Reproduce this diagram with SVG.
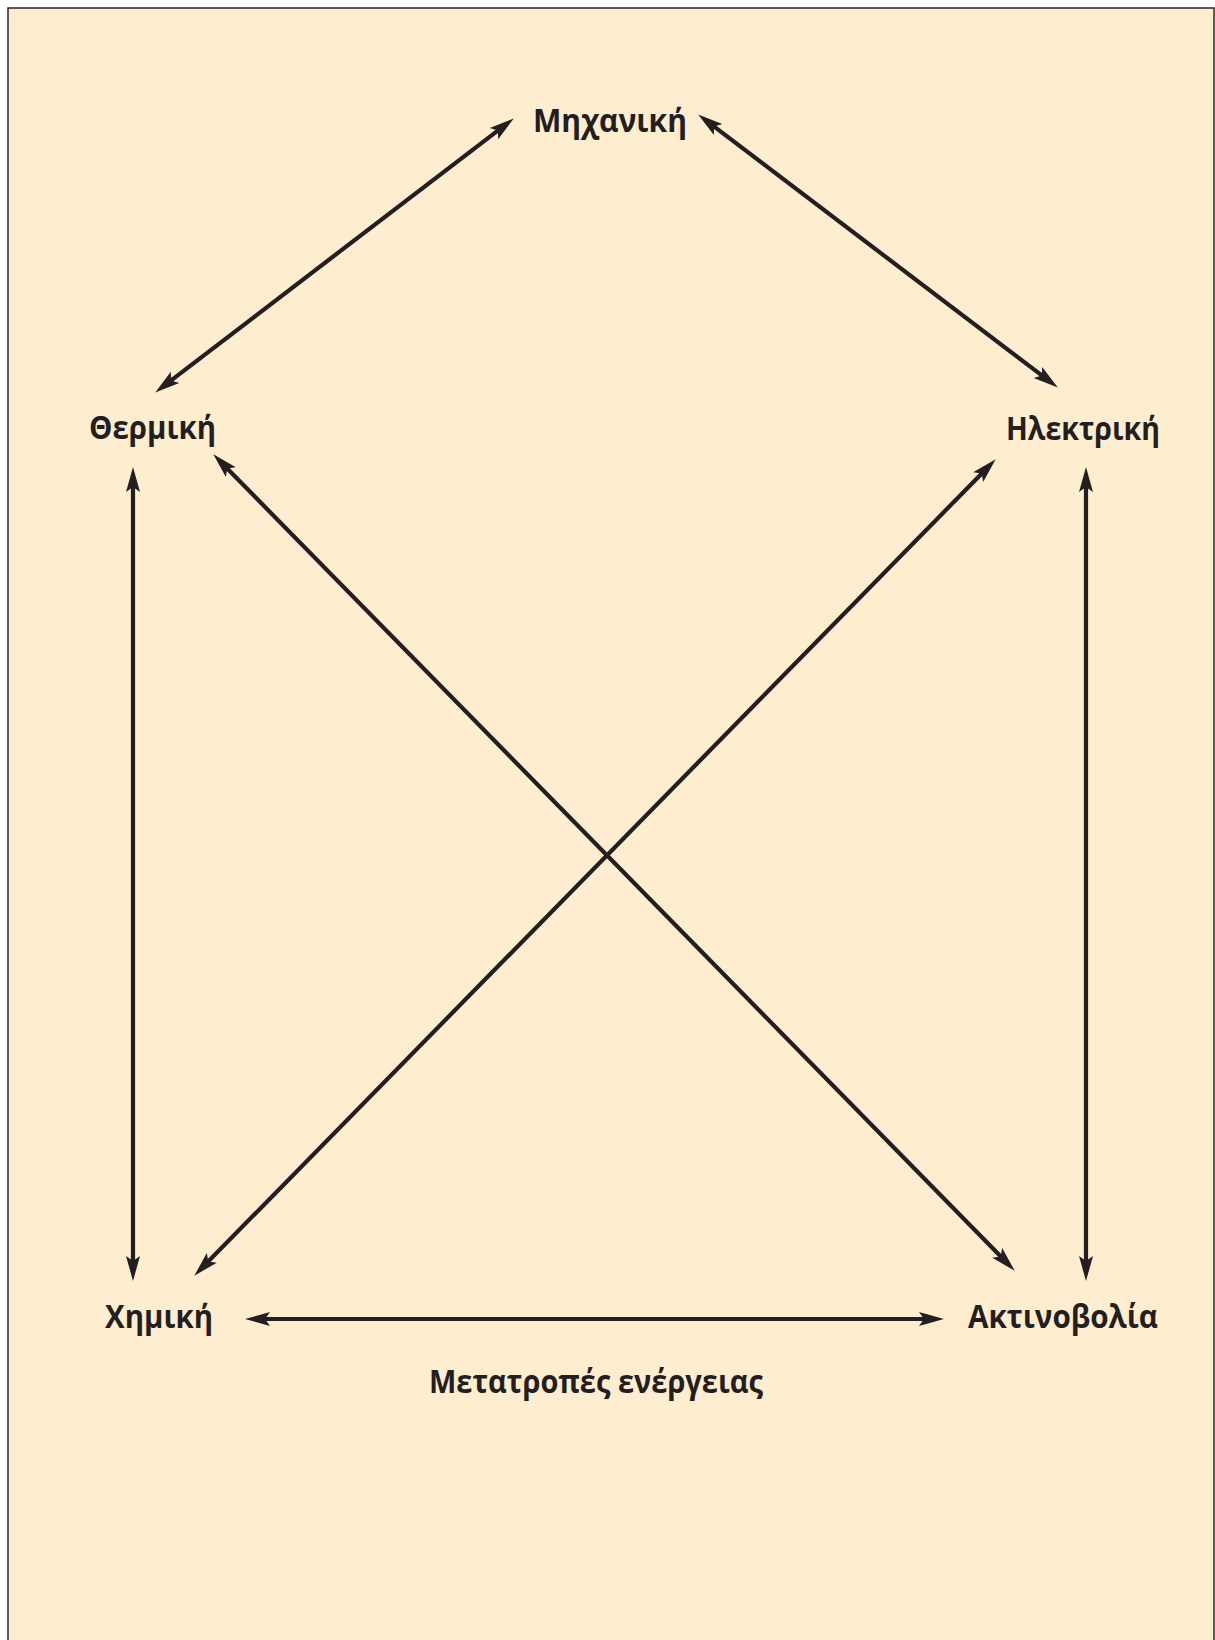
<svg xmlns="http://www.w3.org/2000/svg" width="1215" height="1640" viewBox="0 0 1215 1640">
<style>
.lbl{font-family:"Open Sans","Noto Sans","DejaVu Sans",sans-serif;font-weight:700;font-size:33px;fill:#231f20}
.conn{stroke:#231f20;stroke-width:4.2;fill:none;marker-start:url(#ah);marker-end:url(#ah)}
</style>
<defs>
<marker id="ah" markerUnits="userSpaceOnUse" markerWidth="28" markerHeight="18" viewBox="0 -9 28 18" refX="9" refY="0" orient="auto-start-reverse">
<path d="M0,-7 L25,0 L0,7 L5,0 Z" fill="#231f20"/>
</marker>
</defs>
<rect x="0" y="0" width="1215" height="1640" fill="#ffffff"/>
<rect x="8" y="8" width="1206" height="1640" fill="#ffedd0" stroke="#2b2727" stroke-width="1.5"/>
<g id="connectors">
<line class="conn" x1="501.1" y1="128.1" x2="167.9" y2="382.9"/>
<line class="conn" x1="710.9" y1="124.1" x2="1045.1" y2="377.9"/>
<line class="conn" x1="224.5" y1="465.7" x2="1003.5" y2="1259.3"/>
<line class="conn" x1="984.5" y1="470.7" x2="205.5" y2="1264.3"/>
<line class="conn" x1="133" y1="483" x2="133" y2="1265"/>
<line class="conn" x1="1086" y1="483" x2="1086" y2="1265"/>
<line class="conn" x1="261" y1="1319" x2="928" y2="1319"/>
</g>
<g id="mechanical"><text class="lbl" x="533" y="132" textLength="154" lengthAdjust="spacingAndGlyphs">Μηχανική</text></g>
<g id="thermal"><text class="lbl" x="89" y="439" textLength="127" lengthAdjust="spacingAndGlyphs">Θερμική</text></g>
<g id="electrical"><text class="lbl" x="1006" y="440" textLength="154" lengthAdjust="spacingAndGlyphs">Ηλεκτρική</text></g>
<g id="chemical"><text class="lbl" x="105" y="1328" textLength="108" lengthAdjust="spacingAndGlyphs">Χημική</text></g>
<g id="radiation"><text class="lbl" x="968" y="1328" textLength="190" lengthAdjust="spacingAndGlyphs">Ακτινοβολία</text></g>
<g id="caption"><text class="lbl" x="429" y="1393" textLength="334" lengthAdjust="spacingAndGlyphs">Μετατροπές ενέργειας</text></g>
</svg>
